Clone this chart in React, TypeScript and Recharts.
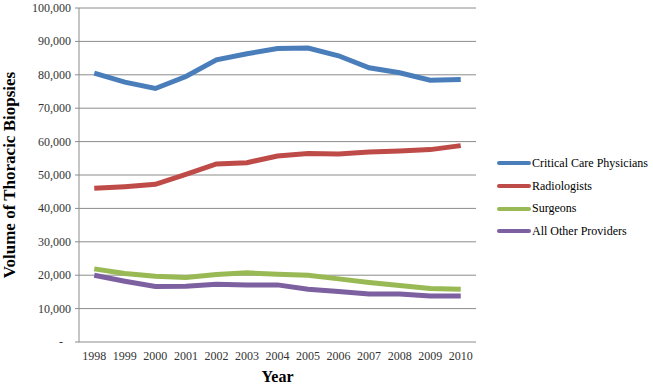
import React from 'react';
import { LineChart, Line, XAxis, YAxis, CartesianGrid } from 'recharts';

const years = [1998, 1999, 2000, 2001, 2002, 2003, 2004, 2005, 2006, 2007, 2008, 2009, 2010];
const criticalCare = [80500, 77800, 75900, 79500, 84500, 86300, 87900, 88000, 85700, 82100, 80600, 78400, 78600];
const radiologists = [46000, 46500, 47200, 50200, 53300, 53700, 55700, 56400, 56300, 56900, 57200, 57600, 58800];
const surgeons = [21900, 20500, 19700, 19300, 20200, 20700, 20300, 20000, 18900, 17800, 16900, 16000, 15800];
const allOther = [20000, 18200, 16600, 16700, 17300, 17100, 17100, 15800, 15100, 14400, 14400, 13800, 13800];
const yTicks = [0, 10000, 20000, 30000, 40000, 50000, 60000, 70000, 80000, 90000, 100000];
const xBoundaryTicks = [1997.5, 1998.5, 1999.5, 2000.5, 2001.5, 2002.5, 2003.5, 2004.5, 2005.5, 2006.5, 2007.5, 2008.5, 2009.5, 2010.5];

const seriesNames = ['Critical Care Physicians', 'Radiologists', 'Surgeons', 'All Other Providers'];
const seriesKeys = ['cc', 'rad', 'surg', 'other'];
const seriesColors = ['#4A7EBB', '#BE4B48', '#98B954', '#7D60A0'];

const data = years.map((y, i) => ({
  year: y,
  cc: criticalCare[i],
  rad: radiologists[i],
  surg: surgeons[i],
  other: allOther[i],
}));

const FONT = '"Liberation Serif", "Times New Roman", serif';

const YTick = (props: any) => {
  const { x, y, payload } = props;
  const v = payload.value as number;
  if (v === 0) {
    return (
      <text x={x - 10} y={y} dy={4} textAnchor="end" fontFamily={FONT} fontSize={12} fill="#333">-</text>
    );
  }
  return (
    <text x={x - 2} y={y} dy={4} textAnchor="end" fontFamily={FONT} fontSize={12} fill="#333">
      {v.toLocaleString('en-US')}
    </text>
  );
};

const XTick = (props: any) => {
  const { x, y, payload } = props;
  return (
    <text x={x} y={y} dy={10} textAnchor="middle" fontFamily={FONT} fontSize={12} fill="#333">
      {payload.value}
    </text>
  );
};

const YLabel = (props: any) => {
  const { viewBox } = props;
  const cy = viewBox.y + viewBox.height / 2;
  const x = 15;
  return (
    <text
      x={x}
      y={cy}
      transform={`rotate(-90, ${x}, ${cy})`}
      textAnchor="middle"
      fontFamily={FONT}
      fontSize={17}
      fontWeight="bold"
      fill="#000"
    >
      Volume of Thoracic Biopsies
    </text>
  );
};

export default function App() {
  return (
    <div style={{ position: 'absolute', left: 0, top: 0, width: 653, height: 385, background: '#fff' }}>
      <LineChart width={653} height={385} data={data} margin={{ top: 8, right: 177, bottom: 0, left: 0 }}>
        <CartesianGrid horizontal={true} vertical={false} stroke="#8c8c8c" strokeWidth={1} />
        <XAxis
          xAxisId="marks"
          dataKey="year"
          type="number"
          domain={[1997.5, 2010.5]}
          ticks={xBoundaryTicks}
          tick={false}
          tickSize={4}
          height={0}
          axisLine={{ stroke: '#8c8c8c' }}
          tickLine={{ stroke: '#8c8c8c' }}
        />
        <XAxis
          xAxisId="labels"
          dataKey="year"
          type="number"
          domain={[1997.5, 2010.5]}
          ticks={years}
          tick={<XTick />}
          tickLine={false}
          axisLine={false}
          height={43}
          interval={0}
          label={{ value: 'Year', position: 'insideBottom', offset: 3, style: { fontFamily: FONT, fontSize: 16, fontWeight: 'bold', fill: '#000' } }}
        />
        <YAxis
          domain={[0, 100000]}
          ticks={yTicks}
          width={79}
          tick={<YTick />}
          tickSize={4}
          tickLine={{ stroke: '#8c8c8c' }}
          axisLine={{ stroke: '#8c8c8c' }}
          interval={0}
          label={<YLabel />}
        />
        {seriesKeys.map((k, i) => (
          <Line
            key={k}
            xAxisId="marks"
            type="linear"
            dataKey={k}
            name={seriesNames[i]}
            stroke={seriesColors[i]}
            strokeWidth={5}
            dot={false}
            activeDot={false}
            isAnimationActive={false}
          />
        ))}
      </LineChart>
      <div style={{ position: 'absolute', left: 497, top: 152, fontFamily: FONT, fontSize: 12, color: '#000' }}>
        {seriesNames.map((n, i) => (
          <div key={n} style={{ display: 'flex', alignItems: 'center', height: 22.7 }}>
            <div style={{ width: 34, height: 4, background: seriesColors[i], borderRadius: 2 }} />
            <span style={{ marginLeft: 1 }}>{n}</span>
          </div>
        ))}
      </div>
    </div>
  );
}
